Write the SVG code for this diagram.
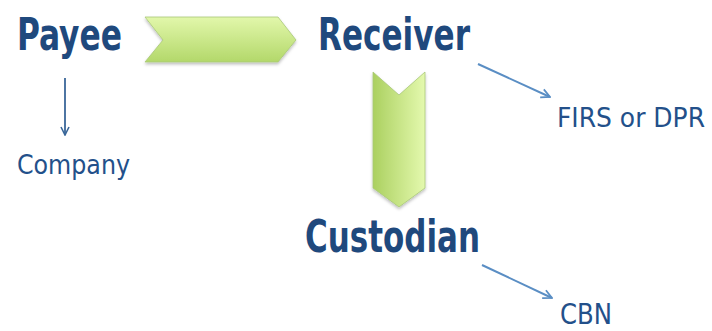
<svg xmlns="http://www.w3.org/2000/svg" width="712" height="331" viewBox="0 0 712 331">
<defs>
<linearGradient id="gH" x1="0" y1="0" x2="0" y2="1">
<stop offset="0" stop-color="#e2f7ab"/>
<stop offset="1" stop-color="#b3d86a"/>
</linearGradient>
<linearGradient id="gV" x1="0" y1="0" x2="1" y2="0">
<stop offset="0" stop-color="#abd060"/>
<stop offset="1" stop-color="#e4f9ae"/>
</linearGradient>
<filter id="sh" x="-10%" y="-10%" width="120%" height="130%">
<feDropShadow dx="0" dy="2" stdDeviation="1.5" flood-color="#000" flood-opacity="0.25"/>
</filter>
<marker id="ah1" viewBox="0 0 10 10" refX="9" refY="5" markerWidth="10" markerHeight="10" markerUnits="userSpaceOnUse" orient="auto">
<path d="M1,1 L9,5 L1,9" fill="none" stroke="#3a6799" stroke-width="1.6"/>
</marker>
<marker id="ah2" viewBox="0 0 10 10" refX="9" refY="5" markerWidth="11" markerHeight="11" markerUnits="userSpaceOnUse" orient="auto">
<path d="M1,1 L9,5 L1,9" fill="none" stroke="#5a8ec4" stroke-width="1.6"/>
</marker>
</defs>
<style>
.big{font-family:"DejaVu Sans Condensed","DejaVu Sans",sans-serif;font-weight:bold;fill:#1f497d;font-size:44px}
.small{font-family:"DejaVu Sans Condensed","DejaVu Sans",sans-serif;fill:#23508a}
.chev{stroke:#a8c878;stroke-width:0.8;filter:url(#sh)}
</style>
<g id="payee"><text class="big" x="17" y="50" textLength="105" lengthAdjust="spacingAndGlyphs">Payee</text></g>
<g id="receiver"><text class="big" x="318" y="50" textLength="152" lengthAdjust="spacingAndGlyphs">Receiver</text></g>
<g id="custodian"><text class="big" x="305" y="252" font-size="42" textLength="175" lengthAdjust="spacingAndGlyphs">Custodian</text></g>
<g id="company"><text class="small" x="17" y="174" font-size="26" textLength="113" lengthAdjust="spacingAndGlyphs">Company</text></g>
<g id="firs"><text class="small" x="557" y="127" font-size="27" textLength="148" lengthAdjust="spacingAndGlyphs">FIRS or DPR</text></g>
<g id="cbn"><text class="small" x="560" y="324" font-size="28" textLength="52" lengthAdjust="spacingAndGlyphs">CBN</text></g>
<g id="connectors">
<path class="chev" d="M145,17 L278,17 L296,40 L278,62 L145,62 L163,40 Z" fill="url(#gH)"/>
<path class="chev" d="M373,72 L399,95 L425,72 L425,188 L399,207 L373,188 Z" fill="url(#gV)"/>
<line x1="65" y1="78" x2="65" y2="135" stroke="#3a6799" stroke-width="1.8" marker-end="url(#ah1)"/>
<line x1="478" y1="64" x2="550" y2="97" stroke="#5a8ec4" stroke-width="2" marker-end="url(#ah2)"/>
<line x1="482" y1="265" x2="552" y2="298" stroke="#5a8ec4" stroke-width="2" marker-end="url(#ah2)"/>
</g>
</svg>
